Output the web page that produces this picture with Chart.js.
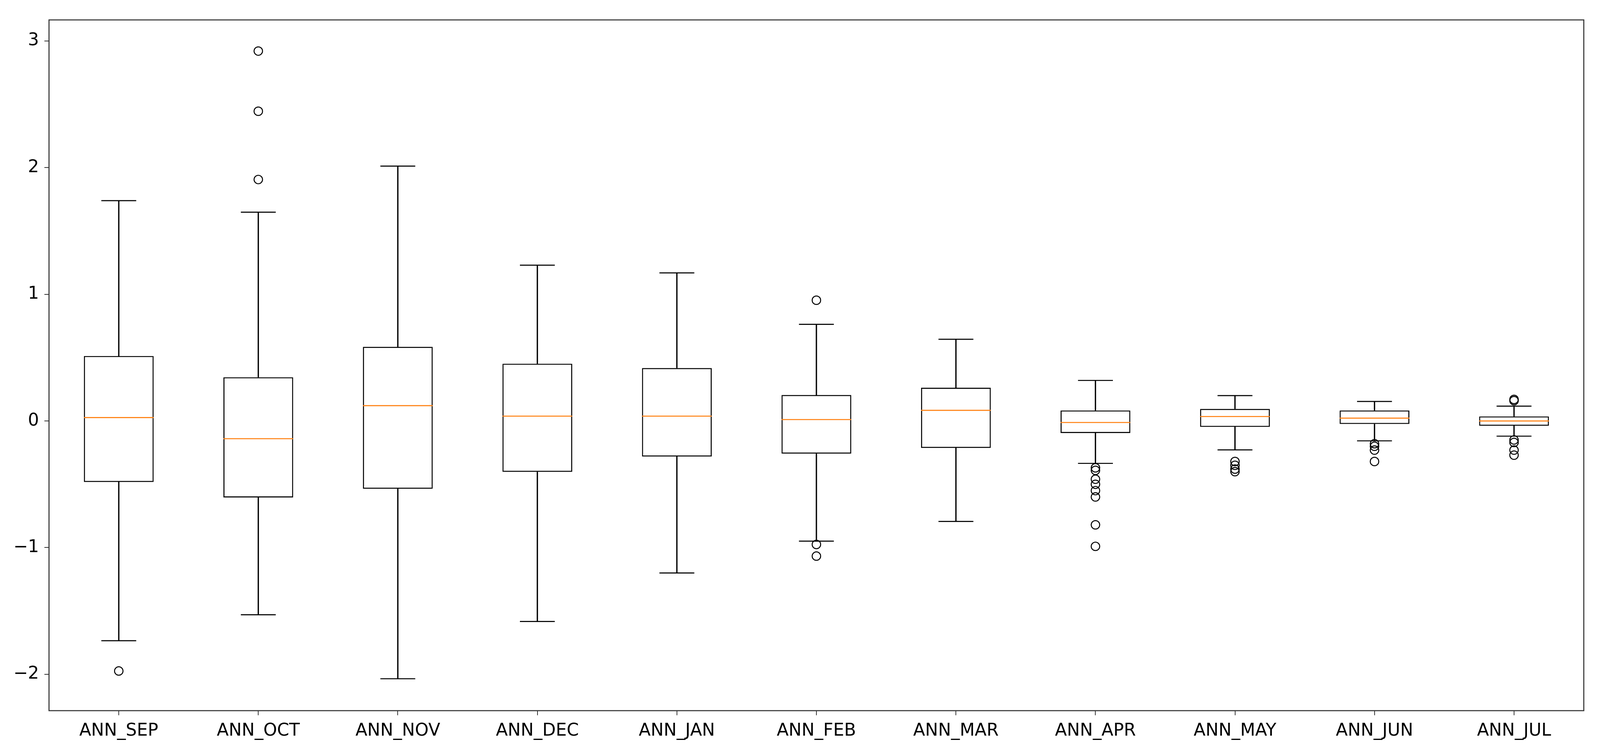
<!DOCTYPE html>
<html>
<head>
<meta charset="utf-8">
<script src="https://cdn.jsdelivr.net/npm/chart.js@4.4.1/dist/chart.umd.min.js"></script>
<style>
html, body { margin: 0; padding: 0; background: #ffffff; overflow: hidden; }
canvas { display: block; }
</style>
</head>
<body>
<canvas id="c"></canvas>
<script>
// ---- data ----
const categories = ['ANN_SEP','ANN_OCT','ANN_NOV','ANN_DEC','ANN_JAN','ANN_FEB','ANN_MAR','ANN_APR','ANN_MAY','ANN_JUN','ANN_JUL'];
const whiskerLow  = [-1.735, -1.530, -2.035, -1.583, -1.200, -0.949, -0.793, -0.335, -0.228, -0.157, -0.120];
const q1          = [-0.482, -0.604, -0.535, -0.402, -0.281, -0.258, -0.213, -0.095, -0.047, -0.024, -0.038];
const medians     = [ 0.027, -0.140,  0.121,  0.038,  0.038,  0.011,  0.084, -0.012,  0.035,  0.022,  0.000];
const q3          = [ 0.513,  0.345,  0.585,  0.452,  0.418,  0.205,  0.262,  0.083,  0.095,  0.083,  0.036];
const whiskerHigh = [ 1.739,  1.648,  2.012,  1.230,  1.169,  0.763,  0.645,  0.320,  0.200,  0.154,  0.117];
const outliersSEP = [-1.974];
const outliersOCT = [2.920, 2.445, 1.906];
const outliersNOV = [];
const outliersDEC = [];
const outliersJAN = [];
const outliersFEB = [0.953, -0.975, -1.067];
const outliersMAR = [];
const outliersAPR = [-0.37, -0.39, -0.46, -0.50, -0.55, -0.60, -0.82, -0.99];
const outliersMAY = [-0.32, -0.35, -0.38, -0.40];
const outliersJUN = [-0.18, -0.20, -0.23, -0.32];
const outliersJUL = [0.17, 0.16, -0.15, -0.17, -0.23, -0.27];
const yTicks = [-2, -1, 0, 1, 2, 3];
const yMin = -2.287;
const yMax = 3.166;

const outlierLists = [outliersSEP, outliersOCT, outliersNOV, outliersDEC, outliersJAN, outliersFEB,
                      outliersMAR, outliersAPR, outliersMAY, outliersJUN, outliersJUL];

// ---- derived structures for the library ----
const boxData = categories.map((c, i) => [q1[i], q3[i]]);
const lowWhiskerData = categories.map((c, i) => [whiskerLow[i], q1[i]]);
const highWhiskerData = categories.map((c, i) => [q3[i], whiskerHigh[i]]);
const capData = [];
categories.forEach((c, i) => {
  capData.push({ x: c, y: whiskerLow[i] });
  capData.push({ x: c, y: whiskerHigh[i] });
});
const medianData = categories.map((c, i) => ({ x: c, y: medians[i] }));
const outlierData = [];
categories.forEach((c, i) => outlierLists[i].forEach(v => outlierData.push({ x: c, y: v })));

// ---- sizing relative to the viewport (design size 4146 x 1931) ----
const W = window.innerWidth || 4146;
const H = window.innerHeight || 1931;
const SX = W / 4146, SY = H / 1931;
const S = Math.min(SX, SY);
const canvas = document.getElementById('c');
canvas.style.width = W + 'px';
canvas.style.height = H + 'px';
canvas.width = W;
canvas.height = H;

const FONT = { family: 'DejaVu Sans', size: 45 * S };
const LW = 2.7 * S;
const catWidth = (ctx) => ctx.chart.scales.x ? ctx.chart.scales.x.width / categories.length : 361 * S;

const framePlugin = {
  id: 'frame',
  afterDraw(chart) {
    const a = chart.chartArea;
    const ctx = chart.ctx;
    ctx.save();
    ctx.strokeStyle = '#333333';
    ctx.lineWidth = LW;
    ctx.strokeRect(a.left, a.top, a.right - a.left, a.bottom - a.top);
    ctx.restore();
  }
};

new Chart(canvas, {
  type: 'bar',
  data: {
    labels: categories,
    datasets: [
      {
        type: 'line', label: 'medians', data: medianData, showLine: false,
        pointStyle: 'line', pointRadius: (ctx) => catWidth(ctx) * 0.25, pointHoverRadius: 0,
        pointBorderColor: '#ff7f0e', pointBorderWidth: LW, borderColor: '#ff7f0e', order: 0
      },
      {
        type: 'line', label: 'outliers', data: outlierData, showLine: false,
        pointStyle: 'circle', pointRadius: 11 * S, pointHoverRadius: 11 * S,
        pointBorderColor: '#000000', pointBackgroundColor: 'rgba(0,0,0,0)', pointBorderWidth: 2.5 * S,
        borderColor: '#000000', order: 1
      },
      {
        type: 'line', label: 'caps', data: capData, showLine: false,
        pointStyle: 'line', pointRadius: (ctx) => catWidth(ctx) * 0.125, pointHoverRadius: 0,
        pointBorderColor: '#000000', pointBorderWidth: LW, borderColor: '#000000', order: 2
      },
      {
        label: 'box', data: boxData, backgroundColor: 'rgba(0,0,0,0)', borderColor: '#000000',
        borderWidth: LW, borderSkipped: false, barPercentage: 0.5, categoryPercentage: 1.0,
        grouped: false, order: 3
      },
      {
        label: 'lowWhisker', data: lowWhiskerData, backgroundColor: '#000000', borderWidth: 0,
        barThickness: LW, grouped: false, order: 4
      },
      {
        label: 'highWhisker', data: highWhiskerData, backgroundColor: '#000000', borderWidth: 0,
        barThickness: LW, grouped: false, order: 4
      }
    ]
  },
  options: {
    responsive: false,
    animation: false,
    events: [],
    layout: { padding: { top: 51 * SY, right: 42 * SX, left: 0, bottom: 0 } },
    plugins: { legend: { display: false }, tooltip: { enabled: false }, title: { display: false } },
    scales: {
      x: {
        type: 'category',
        offset: true,
        grid: { display: true, offset: false, drawOnChartArea: false, drawTicks: true, tickLength: 12 * S, color: '#333333', lineWidth: 2 * S },
        border: { display: false },
        ticks: { color: '#000000', font: FONT, padding: 14 * S, maxRotation: 0, autoSkip: false },
        afterFit: (axis) => { axis.height = 111 * SY; }
      },
      y: {
        type: 'linear',
        min: yMin, max: yMax,
        afterBuildTicks: (axis) => { axis.ticks = yTicks.map(v => ({ value: v })); },
        grid: { display: true, drawOnChartArea: false, drawTicks: true, tickLength: 12 * S, color: '#333333', lineWidth: 2 * S },
        border: { display: false },
        ticks: {
          color: '#000000', font: FONT, padding: 14 * S,
          callback: (v) => v < 0 ? '\u2212' + Math.abs(v) : String(v)
        },
        afterFit: (axis) => { axis.width = 127 * SX; }
      }
    }
  },
  plugins: [framePlugin]
});
</script>
</body>
</html>
